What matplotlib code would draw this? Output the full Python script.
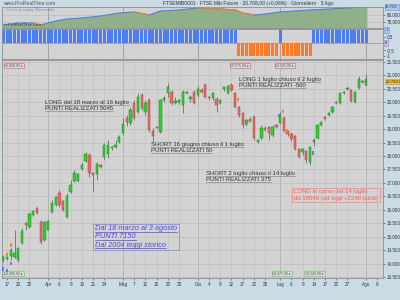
import numpy as np
import matplotlib.pyplot as plt
from matplotlib.transforms import blended_transform_factory
from matplotlib.patches import Rectangle
from matplotlib.lines import Line2D

plt.rcParams['font.family'] = ['Liberation Sans', 'DejaVu Sans']

# FTSE Mib Future, candele giornaliere dal 16 marzo (indice = giorno di borsa)
opens = [14132, 14170, 14281, 14244, 14132, 14765, 15509, 15360, 15806, 16067,
         15546, 14876, 15248, 15918, 16178, 16625, 16327, 15732, 16662, 17071,
         17071, 17518, 17815, 18038, 17369, 17332, 17666, 17964, 18076, 18299,
         18336, 18522, 18857, 19415, 19229, 19973, 19638, 20270, 19638, 20084,
         18931, 19080, 18894, 20100, 20345, 20382, 19973, 20010, 19898, 20382,
         20122, 20382, 20270, 20456, 20642, 20196, 20159, 20122, 19973, 20494,
         20345, 20642, 20345, 19824, 19601, 19192, 19378, 19452, 18522, 18671,
         19043, 19080, 18782, 19154, 19229, 19415, 18931, 18820, 18745, 18262,
         18150, 18187, 17778, 18540, 18671, 19154, 19452, 19526, 19638, 20010,
         19973, 20345, 20494, 20456, 20010, 20531, 20791, 20642]
highs = [14318, 14281, 14579, 15248, 14616, 15323, 15546, 15918, 15992, 16104,
         15620, 15583, 15620, 16364, 16513, 16736, 16364, 16625, 17108, 17480,
         17369, 17778, 18150, 18113, 17406, 17778, 17704, 18485, 18596, 18373,
         18596, 18782, 19415, 19526, 19824, 20084, 20345, 20345, 20084, 20159,
         19043, 19117, 20122, 20250, 20717, 20456, 20196, 20120, 20456, 20419,
         20270, 20456, 20605, 20530, 20717, 20233, 20382, 20196, 20122, 20605,
         20642, 20717, 20382, 19861, 19638, 19378, 19450, 19526, 18634, 19154,
         19100, 19117, 19154, 19192, 19638, 19489, 18968, 18894, 18782, 18299,
         18299, 18224, 18373, 18671, 19192, 19303, 19489, 19638, 19861, 20047,
         20382, 20419, 20568, 20494, 20419, 20977, 20828, 21050]
lows = [14058, 14132, 14132, 14207, 14058, 14728, 15248, 15323, 15769, 15844,
        14728, 14839, 15248, 15881, 16141, 16104, 15955, 15695, 16625, 17034,
        17034, 17480, 17778, 17220, 16662, 17108, 17555, 17852, 17927, 18224,
        18299, 18485, 18782, 19117, 19154, 19340, 19601, 19712, 19526, 18894,
        18522, 19043, 18857, 20000, 20196, 19898, 19936, 19950, 19601, 20308,
        20010, 19936, 20196, 20345, 20159, 20084, 20084, 19638, 19936, 20419,
        20308, 20419, 19787, 19452, 19043, 19117, 19250, 18596, 18485, 18596,
        18930, 18596, 18708, 19043, 19192, 18894, 18745, 18559, 18224, 17927,
        18038, 17741, 17666, 18373, 18634, 19117, 19340, 19489, 19601, 19936,
        19936, 20308, 20456, 20010, 19973, 20494, 20717, 20605]
closes = [14244, 14244, 14504, 14393, 14579, 15211, 15434, 15844, 15955, 15881,
          14802, 15546, 15583, 16253, 16476, 16178, 15992, 16513, 16922, 17369,
          17332, 17666, 18076, 17369, 17294, 17704, 17592, 18410, 18410, 18310,
          18410, 18708, 19192, 19266, 19712, 19415, 20196, 19787, 19973, 18968,
          18745, 19060, 20084, 20150, 20568, 19973, 20047, 20084, 20382, 20345,
          20196, 19973, 20494, 20382, 20196, 20159, 20345, 19898, 20084, 20568,
          20605, 20456, 19824, 19526, 19154, 19340, 19303, 18671, 18596, 19043,
          18968, 18857, 19080, 19080, 19526, 18931, 18820, 18634, 18262, 17964,
          18262, 17852, 18336, 18596, 19154, 19266, 19378, 19601, 19824, 19973,
          20345, 20382, 20531, 20047, 20382, 20866, 20754, 20866]

# etichette asse x (giorno di borsa)
tick_pos = [1, 4, 7, 12, 15, 18, 21, 24, 27, 32, 35, 38, 41, 44, 47, 52, 55, 58,
            61, 64, 67, 70, 74, 77, 80, 83, 86, 89, 92, 97, 100]
tick_labels = ['17', '20', '25', 'Apr', '6', '9', '16', '21', '24', 'Mag', '7', '12',
               '15', '20', '25', 'Giu', '4', '9', '12', '17', '22', '25', 'Lug', '6',
               '9', '14', '17', '22', '27', 'Ago', '6']
month_pos = [12, 32, 52, 74, 97]

# posizione: long (+1) / short (-1)
pos_sign = [1, -1, 1, -1, 1]
pos_days = [63, 11, 1, 8, 15]

# curva di equity (letta a intervalli)
eq_day = [0, 4, 8, 10, 11, 14, 17, 21, 26, 31, 35, 39, 42, 47, 52, 58, 62, 64,
          67, 70, 74, 78, 82, 87, 92, 97]
eq_val = [72860, 74290, 74300, 72900, 73600, 75700, 77140, 77860, 79290, 81430,
          82140, 80000, 82860, 83570, 85000, 84280, 83570, 81430, 80000, 80710,
          82140, 82860, 83570, 84280, 85000, 85700]

# segnali (frecce) sul grafico
sig_day = [0, 1, 1, 2, 2, 62.8, 73.7, 74.8, 75.9, 82.8]
sig_top = [13872, 13798, 14393, 14765, 14058, 20159, 19564, 19712, 19006, 18187]
sig_bot = [13723, 13686, 14281, 14616, 13946, 20047, 19452, 19601, 18894, 18038]
sig_buy = [True, True, False, False, True, False, True, False, False, True]

BG = '#cbdbe5'
PANEL = '#d3d3d3'
BLUE = '#4a7ef2'
ORANGE = '#ff7a26'
W, H = 400, 300

fig = plt.figure(figsize=(4, 3), dpi=100, facecolor=BG)


def px_axes(x0, y0, x1, y1):
    a = fig.add_axes([x0 / W, 1 - y1 / H, (x1 - x0) / W, (y1 - y0) / H])
    a.set_facecolor(PANEL)
    for s in a.spines.values():
        s.set_color('#8e8e8e')
        s.set_linewidth(0.6)
    a.yaxis.tick_right()
    a.tick_params(axis='y', labelsize=3.3, length=1.5, width=0.4, pad=1,
                  colors='#333333')
    a.set_xlim(-0.35, 101.5)
    a.set_xticks([])
    for m in month_pos:
        a.axvline(m, color='#a3a3a3', lw=0.7, zorder=0)
    return a


def fmt(v):
    return f'{v:,.0f}'.replace(',', '.')


days = np.arange(len(opens))

# --- pannello equity ---
ax_eq = px_axes(2, 7, 383, 28)
ax_eq.set_ylim(70714, 85714)
ax_eq.fill_between(eq_day, eq_val, 70714, color='#90b08a', zorder=1)
ax_eq.plot(eq_day, eq_val, color=BLUE, lw=0.8, zorder=2)
for i in range(len(eq_day) - 1):
    if eq_val[i + 1] < eq_val[i]:
        ax_eq.plot(eq_day[i:i + 2], eq_val[i:i + 2], color=ORANGE, lw=0.8, zorder=3)
ax_eq.set_yticks([75000, 80000])
ax_eq.set_yticklabels([fmt(75000), fmt(80000)])
for v in [75000, 80000]:
    ax_eq.axhline(v, color='#b8b8b8', lw=0.4, zorder=0)
ax_eq.text(1.006, eq_val[-1], fmt(eq_val[-1]), transform=ax_eq.get_yaxis_transform(),
           fontsize=3.1, va='center', ha='left', color='#333333',
           bbox=dict(boxstyle='square,pad=0.15', fc='#aac4f5', ec='#6c8fd8', lw=0.4))
ax_eq.text(0.01, 0.97, 'Curva di equity (Nominale)', transform=ax_eq.transAxes,
           fontsize=3, color='#7090d8', va='top')
ax_eq.text(0.005, 0.12, '© ProRealTime.com', transform=ax_eq.transAxes,
           fontsize=3, color='#444444', va='center')

# --- pannello posizione ---
ax_pos = px_axes(2, 29, 383, 59)
ax_pos.set_ylim(-1.2, 1.08)
pos = np.repeat(pos_sign, pos_days)
ax_pos.bar(days, pos, width=0.8, color=[BLUE if p > 0 else ORANGE for p in pos],
           zorder=2)
ax_pos.axhline(0, color='#9a96c8', lw=0.6, zorder=1)
ax_pos.set_yticks([0.5, -0.5, -1])
ax_pos.set_yticklabels(['0,5', '-0,5', '-1'])
ax_pos.text(1.006, 1, '1', transform=ax_pos.get_yaxis_transform(), fontsize=3.1,
            va='center', color='#333333',
            bbox=dict(boxstyle='square,pad=0.2', fc='#aac4f5', ec='#6c8fd8', lw=0.4))
ax_pos.text(1.006, 0, '0', transform=ax_pos.get_yaxis_transform(), fontsize=3.1,
            va='center', color='#333333',
            bbox=dict(boxstyle='square,pad=0.2', fc='#c8c4ea', ec='#8a86c8', lw=0.4))

# --- grafico prezzi ---
ax = px_axes(2, 60, 383, 278)
ax.set_ylim(13463, 21572)
yt = np.arange(13500, 21501, 500)
ax.set_yticks(yt)
ax.set_yticklabels([fmt(v) for v in yt])
for v in yt:
    ax.axhline(v, color='#bcbcbc', lw=0.45, zorder=0)
for t in tick_pos:
    ax.axvline(t, color='#c2c2c2', lw=0.45, zorder=0)

ax.set_xticks(tick_pos)
ax.set_xticklabels(tick_labels)
ax.tick_params(axis='x', labelsize=3.3, length=1.5, width=0.4, pad=1.5,
               colors='#333333')
ax.set_xlim(-0.35, 101.5)

up = np.array(closes) >= np.array(opens)
ax.vlines(days, lows, highs, color='#5a5a5a', lw=0.5, zorder=2)
body_lo = np.minimum(opens, closes)
body_h = np.maximum(np.abs(np.array(closes) - np.array(opens)), 25)
ax.bar(days, body_h, bottom=body_lo, width=0.62,
       color=np.where(up, '#2fd02f', '#e36b6b'),
       edgecolor=np.where(up, '#1d8a1d', '#a84a4a'), linewidth=0.35, zorder=3)

for d, t, b, buy in zip(sig_day, sig_top, sig_bot, sig_buy):
    ax.vlines(d, b, t, color=BLUE if buy else ORANGE, lw=1.3, zorder=4)

# prezzo attuale
ax.text(1.006, 20780, '20.708,0', transform=ax.get_yaxis_transform(), fontsize=3.1,
        va='center', color='#222222',
        bbox=dict(boxstyle='square,pad=0.15', fc='#f2c230', ec='#c89a10', lw=0.4))

# etichette prezzi ordini
tags = [(-0.3, '19.850,00', 'top'), (60.1, '19.575,00', 'top'),
        (72.1, '19.925,00', 'top'), (-0.3, '14.400,00', 'bottom'),
        (71.3, '18.475,00', 'bottom'), (80.1, '18.540,00', 'bottom')]
bt = blended_transform_factory(ax.transData, ax.transAxes)
for x, s, side in tags:
    col = '#e07070' if side == 'top' else '#70d070'
    ax.text(x + 0.6, 0.985 if side == 'top' else 0.012, s + ' ▸', transform=bt,
            fontsize=2.6, color='#555555', va='top' if side == 'top' else 'bottom',
            family=['Liberation Sans', 'DejaVu Sans'],
            bbox=dict(boxstyle='square,pad=0.2', fc='#dcdcdc', ec=col, lw=0.5))

underlined = []
boxed = []


def note(x, y, lines, color, size, step, italic=False, box=None):
    items = []
    for i, s in enumerate(lines):
        t = ax.annotate(s, xy=(x, y), xytext=(0, -i * step), textcoords='offset points',
                        va='top', ha='left', fontsize=size, color=color,
                        style='italic' if italic else 'normal', zorder=6)
        items.append(t)
    if box is None:
        underlined.extend([(t, '#8a8a8a') for t in items])
    else:
        if italic:
            underlined.extend([(t, color) for t in items])
        boxed.append((items, box))


note(11.1, 20084, ['LONG dal 18 marzo al 16 luglio', 'PUNTI REALIZZATI 5045'],
     '#333333', 4.3, 4.4)
note(39.4, 18522, ['SHORT 16 giugno chiuso il 1 luglio', 'PUNTI REALIZZATI 50'],
     '#333333', 4.3, 4.4)
note(62.9, 20940, ['LONG 1 luglio chiuso il 2 luglio', 'PUNTI REALIZZATI -560'],
     '#333333', 4.3, 4.4)
note(54.1, 17443, ['SHORT 2 luglio chiuso il 14 luglio', 'PUNTI REALIZZATI 375'],
     '#333333', 4.3, 4.4)
note(77.8, 16774, ['LONG in corso dal 14 luglio', 'da 18540 (ad oggi +2240 punti)'],
     '#ff5a5a', 4.3, 5.0, box='#ff8a8a')
note(24.5, 15434, ['Dal 18 marzo al 3 agosto', 'PUNTI 7150', 'Dal 2004 leggi storico'],
     '#4a4af0', 5.3, 6.0, italic=True, box='#8a8af5')

# intestazione
fig.text(3 / W, 1 - 3.5 / H, 'www.ProRealTime.com', fontsize=3.6, color='#555555',
         va='center')
fig.text(163 / W, 1 - 3.5 / H,
         'FTSEMIB0001 · FTSE Mib Future · 20.708,00 (+0,06%) · Giornaliero · 3 Ago',
         fontsize=3.6, color='#333333', va='center')

# sottolineature e riquadri
fig.canvas.draw()
r = fig.canvas.get_renderer()
inv = fig.transFigure.inverted()
for t, c in underlined:
    bb = t.get_window_extent(r)
    (x0, y0), (x1, _) = inv.transform([(bb.x0, bb.y0 + 0.3), (bb.x1, bb.y0)])
    fig.add_artist(Line2D([x0, x1], [y0, y0], color=c, lw=0.5))
for items, c in boxed:
    bbs = [t.get_window_extent(r) for t in items]
    x0 = min(b.x0 for b in bbs) - 2
    x1 = max(b.x1 for b in bbs) + 2
    y0 = min(b.y0 for b in bbs) - 1.5
    y1 = max(b.y1 for b in bbs) + 1
    (fx0, fy0), (fx1, fy1) = inv.transform([(x0, y0), (x1, y1)])
    fig.add_artist(Rectangle((fx0, fy0), fx1 - fx0, fy1 - fy0, fill=False,
                             ec=c, lw=0.6))

fig.savefig('out.png', dpi=100, facecolor=BG)
